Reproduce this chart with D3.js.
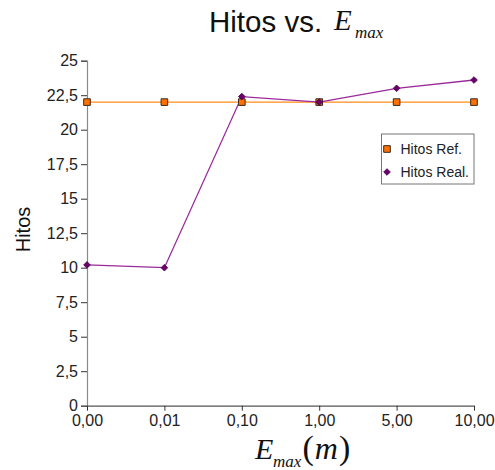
<!DOCTYPE html>
<html>
<head>
<meta charset="utf-8">
<script src="https://cdn.jsdelivr.net/npm/d3@7"></script>
<style>
  html, body { margin: 0; padding: 0; background: #fff; }
  svg { display: block; font-family: "Liberation Sans", Arial, sans-serif; }
</style>
</head>
<body>
<svg id="chart" width="495" height="470"></svg>
<script>
// E_max categories (m) shown on the horizontal axis
const categories = ["0,00", "0,01", "0,10", "1,00", "5,00", "10,00"];
// Reference milestones and measured milestones per E_max
const hitosRef  = [22, 22, 22, 22, 22, 22];
const hitosReal = [10.2, 10.0, 22.4, 22.0, 23.0, 23.6];
const yTicks = [0, 2.5, 5, 7.5, 10, 12.5, 15, 17.5, 20, 22.5, 25];
const seriesNames = ["Hitos Ref.", "Hitos Real."];

const svg = d3.select("#chart");
const plotLeft = 87, plotRight = 474, plotTop = 60.7, plotBottom = 405.7;

const x = d3.scalePoint().domain(categories).range([plotLeft, plotRight]);
const y = d3.scaleLinear().domain([0, 25]).range([plotBottom, plotTop]);
const fmt = d => String(d).replace(".", ",");

// Axes
const yAxis = svg.append("g")
  .attr("transform", `translate(${plotLeft},0)`)
  .call(d3.axisLeft(y).tickValues(yTicks).tickFormat(fmt).tickSize(6).tickPadding(3));
yAxis.select(".domain").attr("stroke", "#8a8a8a").attr("stroke-width", 1.2);
yAxis.selectAll(".tick line").attr("stroke", "#333");
yAxis.selectAll(".tick text").attr("font-size", 16).attr("fill", "#222")
  .attr("font-family", "Liberation Sans, Arial, sans-serif");

const xAxis = svg.append("g")
  .attr("transform", `translate(0,${plotBottom})`)
  .call(d3.axisBottom(x).tickSize(5).tickPadding(4).tickSizeOuter(0));
xAxis.select(".domain").attr("stroke", "#555").attr("stroke-width", 1.2);
xAxis.selectAll(".tick line").attr("stroke", "#333");
xAxis.selectAll(".tick text").attr("font-size", 16).attr("fill", "#222")
  .attr("font-family", "Liberation Sans, Arial, sans-serif");

// Lines
const line = d3.line().x((d, i) => x(categories[i])).y(d => y(d));
svg.append("path").datum(hitosRef).attr("d", line)
  .attr("fill", "none").attr("stroke", "#ff8c1a").attr("stroke-width", 1.3);
svg.append("path").datum(hitosReal).attr("d", line)
  .attr("fill", "none").attr("stroke", "#9a2a9a").attr("stroke-width", 1.3);

// Markers: orange squares and purple diamonds (rotated squares)
const sq = d3.symbol().type(d3.symbolSquare).size(44);
const dia = d3.symbol().type(d3.symbolSquare).size(22);
svg.append("g").selectAll("path").data(hitosRef).join("path")
  .attr("d", sq)
  .attr("transform", (d, i) => `translate(${x(categories[i])},${y(d)})`)
  .attr("fill", "#ff7000").attr("stroke", "#3a2a20").attr("stroke-width", 1);
svg.append("g").selectAll("path").data(hitosReal).join("path")
  .attr("d", dia)
  .attr("transform", (d, i) => `translate(${x(categories[i])},${y(d)}) rotate(45)`)
  .attr("fill", "#6e006e").attr("stroke", "#4a004a").attr("stroke-width", 0.8);

// Legend
const lg = svg.append("g");
lg.append("rect").attr("x", 381.5).attr("y", 134).attr("width", 92.5).attr("height", 50)
  .attr("fill", "#fff").attr("stroke", "#777").attr("stroke-width", 1);
lg.append("path").attr("d", sq).attr("transform", "translate(387,149)")
  .attr("fill", "#ff7000").attr("stroke", "#3a2a20").attr("stroke-width", 1);
lg.append("path").attr("d", dia).attr("transform", "translate(387,172) rotate(45)")
  .attr("fill", "#6e006e").attr("stroke", "#4a004a").attr("stroke-width", 0.8);
lg.selectAll("text").data(seriesNames).join("text")
  .attr("x", 400.5).attr("y", (d, i) => 154 + i * 23)
  .attr("font-size", 14).attr("fill", "#222").text(d => d);

// Title
const title = svg.append("text").attr("x", 209).attr("y", 31.5).attr("fill", "#111");
title.append("tspan").attr("font-size", 29.5).text("Hitos vs. ");
title.append("tspan").attr("font-family", "Liberation Serif, Times New Roman, serif")
  .attr("font-style", "italic").attr("font-size", 29).attr("x", 334).attr("y", 29.5).text("E");
title.append("tspan").attr("font-family", "Liberation Serif, Times New Roman, serif")
  .attr("font-style", "italic").attr("font-size", 17).attr("x", 355).attr("y", 37.5).text("max");

// Axis titles
svg.append("text").attr("transform", "translate(30,229.5) rotate(-90)")
  .attr("text-anchor", "middle").attr("font-size", 20).attr("fill", "#111").text("Hitos");

const xt = svg.append("text").attr("fill", "#111")
  .attr("font-family", "Liberation Serif, Times New Roman, serif");
xt.append("tspan").attr("x", 255).attr("y", 458.5).attr("font-style", "italic")
  .attr("font-size", 30).text("E");
xt.append("tspan").attr("x", 273).attr("y", 466.5).attr("font-style", "italic")
  .attr("font-size", 17).text("max");
xt.append("tspan").attr("x", 302.5).attr("y", 459).attr("font-size", 34).text("(");
xt.append("tspan").attr("font-style", "italic").attr("font-size", 32).attr("dx", 1).text("m");
xt.append("tspan").attr("font-size", 34).attr("dx", 1).text(")");
</script>
</body>
</html>
